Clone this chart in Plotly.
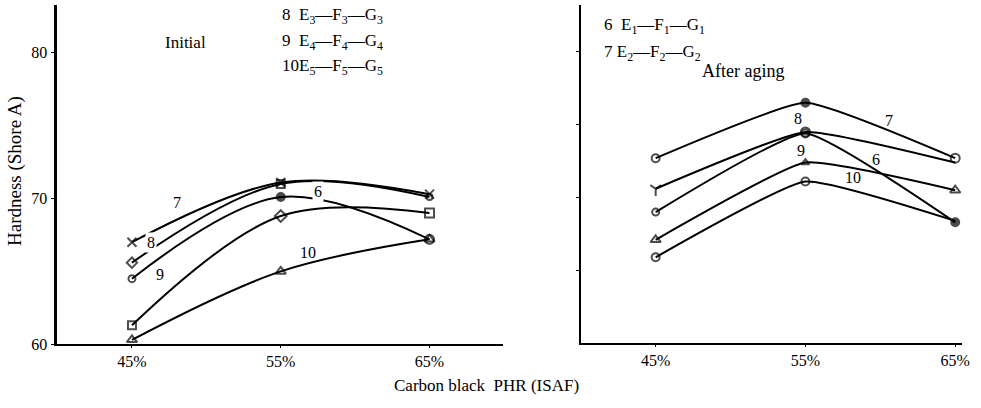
import plotly.graph_objects as go

# Carbon black loading (PHR, ISAF) and tick labels
loading = [45, 55, 65]
loading_labels = ["45%", "55%", "65%"]

# Hardness (Shore A) before aging, compounds 6-10
initial_6 = [64.5, 70.1, 67.2]
initial_7 = [67.0, 71.1, 70.3]
initial_8 = [65.6, 71.0, 70.1]
initial_9 = [61.3, 68.8, 69.0]
initial_10 = [60.3, 65.0, 67.2]

# Hardness (Shore A) after aging, compounds 6-10
aged_6 = [69.0, 74.4, 68.3]
aged_7 = [72.7, 76.5, 72.7]
aged_8 = [70.6, 74.5, 72.4]
aged_9 = [67.1, 72.4, 70.5]
aged_10 = [65.9, 71.1, 68.4]

series_names = ["6", "7", "8", "9", "10"]

W, H = 981, 408
FONT = "Liberation Serif"
INK = "#000000"

initial_series = [initial_6, initial_7, initial_8, initial_9, initial_10]
aged_series = [aged_6, aged_7, aged_8, aged_9, aged_10]

# marker symbols for each point of each curve
initial_symbols = [
    ["circle-open", "circle", "circle-open"],
    ["x-thin-open", "x-thin-open", "x-thin-open"],
    ["diamond-open", "square-open", "circle-open"],
    ["square-open", "diamond-open", "square-open"],
    ["triangle-up-open", "triangle-up-open", "triangle-up-open"],
]
initial_sizes = [[7, 8, 9], [9, 9, 9], [8, 8, 6], [8, 9, 9], [9, 9, 9]]

aged_symbols = [
    ["circle-open", "circle-open", "circle"],
    ["circle-open", "circle", "circle-open"],
    ["y-down-open", "circle-open", "circle-open"],
    ["triangle-up-open", "triangle-up-open", "triangle-up-open"],
    ["circle-open", "circle-open", "circle-open"],
]
aged_sizes = [[7, 8, 8], [8, 8, 9], [9, 9, 0], [9, 7, 9], [8, 8, 0]]

fig = go.Figure()

for name, vals, syms, sizes in zip(series_names, initial_series, initial_symbols, initial_sizes):
    fig.add_trace(go.Scatter(
        x=loading, y=vals, name=name, mode="lines+markers",
        line=dict(color=INK, width=2, shape="spline", smoothing=1.0),
        marker=dict(symbol=syms, size=sizes, color=INK,
                    line=dict(color=INK, width=2)),
        xaxis="x", yaxis="y", showlegend=False, cliponaxis=False,
    ))

for name, vals, syms, sizes in zip(series_names, aged_series, aged_symbols, aged_sizes):
    fig.add_trace(go.Scatter(
        x=loading, y=vals, name=name, mode="lines+markers",
        line=dict(color=INK, width=2, shape="spline", smoothing=0.4),
        marker=dict(symbol=syms, size=sizes, color=INK,
                    line=dict(color=INK, width=2)),
        xaxis="x2", yaxis="y2", showlegend=False, cliponaxis=False,
    ))

# curve numbers written along the lines
initial_label_pos = {"7": (48.0, 69.7), "8": (46.3, 67.0), "6": (57.5, 70.5),
                     "9": (46.9, 64.8), "10": (56.8, 66.3)}
aged_label_pos = {"7": (60.6, 75.3), "8": (54.5, 75.4), "6": (59.7, 72.6),
                  "9": (54.7, 73.2), "10": (58.2, 71.4)}

annotations = []
for name, (lx, ly) in initial_label_pos.items():
    annotations.append(dict(
        x=lx, y=ly, xref="x", yref="y", text=name, showarrow=False,
        font=dict(family=FONT, size=16, color=INK),
        bgcolor="white" if name in ("8", "6") else None, borderpad=1,
    ))
for name, (lx, ly) in aged_label_pos.items():
    annotations.append(dict(
        x=lx, y=ly, xref="x2", yref="y2", text=name, showarrow=False,
        font=dict(family=FONT, size=16, color=INK),
    ))


def px(x, y):
    return x / W, 1 - y / H


def note(text, x, y, size=15, xanchor="left"):
    nx, ny = px(x, y)
    annotations.append(dict(
        x=nx, y=ny, xref="paper", yref="paper", text=text, showarrow=False,
        xanchor=xanchor, yanchor="middle",
        font=dict(family=FONT, size=size, color=INK),
    ))


sp = "\u00a0"
note("Initial", 187, 43, size=17, xanchor="center")
note(f"8{sp}{sp}E<sub>3</sub>—F<sub>3</sub>—G<sub>3</sub>", 282, 16, size=17)
note(f"9{sp}{sp}E<sub>4</sub>—F<sub>4</sub>—G<sub>4</sub>", 282, 43, size=17)
note("10E<sub>5</sub>—F<sub>5</sub>—G<sub>5</sub>", 282, 69, size=17)
note(f"6{sp}{sp}E<sub>1</sub>—F<sub>1</sub>—G<sub>1</sub>", 607, 27, size=17)
note(f"7{sp}E<sub>2</sub>—F<sub>2</sub>—G<sub>2</sub>", 607, 54, size=17)
note("After aging", 706, 73, size=18)
note(f"Carbon black{sp}{sp}PHR (ISAF)", 490, 394, size=17, xanchor="center")

yx, yy = px(15, 175)
annotations.append(dict(
    x=yx, y=yy, xref="paper", yref="paper", text="Hardness (Shore A)",
    showarrow=False, textangle=-90, xanchor="center", yanchor="middle",
    font=dict(family=FONT, size=19, color=INK),
))

axis_common = dict(showgrid=False, zeroline=False, showline=True,
                   linecolor=INK, tickcolor=INK,
                   tickfont=dict(family=FONT, size=16, color=INK))

fig.update_layout(
    width=W, height=H,
    margin=dict(l=0, r=0, t=0, b=0),
    paper_bgcolor="white", plot_bgcolor="white",
    xaxis=dict(domain=[57 / W, 507 / W], range=[39.93, 69.93],
               tickvals=loading, ticktext=loading_labels,
               ticks="outside", ticklen=2, linewidth=2, anchor="y",
               **axis_common),
    yaxis=dict(domain=[1 - 352 / H, 1 - 5 / H], range=[60, 83.29],
               tickvals=[60, 70, 80], ticks="outside", ticklen=3,
               linewidth=3, anchor="x", **axis_common),
    xaxis2=dict(domain=[586 / W, 970 / W], range=[40.03, 65.46],
                tickvals=loading, ticktext=loading_labels,
                ticks="outside", ticklen=2, linewidth=2, anchor="y2",
                **axis_common),
    yaxis2=dict(domain=[1 - 351 / H, 1 - 5 / H], range=[60, 83.22],
                tickvals=[65, 70, 75, 80], showticklabels=False,
                ticks="outside", ticklen=3, linewidth=2, anchor="x2",
                **axis_common),
    annotations=annotations,
)

fig.write_html("out.html")
